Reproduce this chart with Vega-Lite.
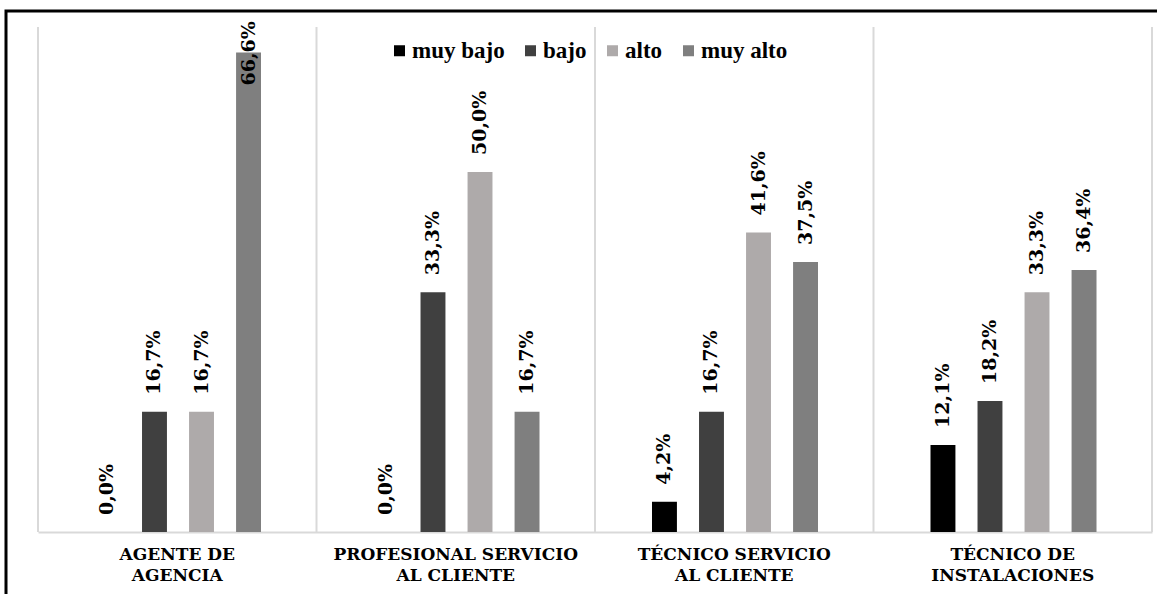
{
  "$schema": "https://vega.github.io/schema/vega-lite/v6.json",
  "width": 1165,
  "height": 590,
  "autosize": {"type": "none"},
  "padding": {"left": 6, "top": 11, "right": -14, "bottom": -7},
  "background": "#ffffff",
  "config": {
    "locale": {
      "number": {"decimal": ",", "thousands": ".", "grouping": [3], "currency": ["", " €"]}
    },
    "view": {"stroke": "#000000", "strokeWidth": 3}
  },
  "data": {
    "values": [
      {"puesto": "AGENTE DE AGENCIA", "nivel": "muy bajo", "valor": 0.0},
      {"puesto": "AGENTE DE AGENCIA", "nivel": "bajo", "valor": 0.167},
      {"puesto": "AGENTE DE AGENCIA", "nivel": "alto", "valor": 0.167},
      {"puesto": "AGENTE DE AGENCIA", "nivel": "muy alto", "valor": 0.666},
      {"puesto": "PROFESIONAL SERVICIO AL CLIENTE", "nivel": "muy bajo", "valor": 0.0},
      {"puesto": "PROFESIONAL SERVICIO AL CLIENTE", "nivel": "bajo", "valor": 0.333},
      {"puesto": "PROFESIONAL SERVICIO AL CLIENTE", "nivel": "alto", "valor": 0.5},
      {"puesto": "PROFESIONAL SERVICIO AL CLIENTE", "nivel": "muy alto", "valor": 0.167},
      {"puesto": "TÉCNICO SERVICIO AL CLIENTE", "nivel": "muy bajo", "valor": 0.042},
      {"puesto": "TÉCNICO SERVICIO AL CLIENTE", "nivel": "bajo", "valor": 0.167},
      {"puesto": "TÉCNICO SERVICIO AL CLIENTE", "nivel": "alto", "valor": 0.416},
      {"puesto": "TÉCNICO SERVICIO AL CLIENTE", "nivel": "muy alto", "valor": 0.375},
      {"puesto": "TÉCNICO DE INSTALACIONES", "nivel": "muy bajo", "valor": 0.121},
      {"puesto": "TÉCNICO DE INSTALACIONES", "nivel": "bajo", "valor": 0.182},
      {"puesto": "TÉCNICO DE INSTALACIONES", "nivel": "alto", "valor": 0.333},
      {"puesto": "TÉCNICO DE INSTALACIONES", "nivel": "muy alto", "valor": 0.364}
    ]
  },
  "layer": [
    {
      "mark": {"type": "bar"},
      "encoding": {
        "x": {
          "field": "puesto",
          "type": "nominal",
          "sort": null,
          "scale": {"range": [32, 1146], "paddingInner": 0, "paddingOuter": 0},
          "axis": {
            "orient": "bottom",
            "offset": -69,
            "title": null,
            "grid": false,
            "ticks": false,
            "domainColor": "#d9d9d9",
            "domainWidth": 2,
            "labelAngle": 0,
            "labelPadding": 14,
            "labelLimit": 0,
            "labelFont": "DejaVu Serif",
            "labelFontWeight": "bold",
            "labelFontSize": 17,
            "labelLineHeight": 21,
            "labelColor": "#000000",
            "labelExpr": "indexof(datum.label, ' AL CLIENTE') > 0 ? [replace(datum.label, ' AL CLIENTE', ''), 'AL CLIENTE'] : [slice(datum.label, 0, lastindexof(datum.label, ' ')), slice(datum.label, lastindexof(datum.label, ' ') + 1)]"
          }
        },
        "xOffset": {
          "field": "nivel",
          "type": "nominal",
          "sort": ["muy bajo", "bajo", "alto", "muy alto"],
          "scale": {"range": [57, 223], "paddingInner": 0.47, "paddingOuter": 0}
        },
        "y": {
          "field": "valor",
          "type": "quantitative",
          "scale": {"domain": [0, 0.7236], "range": [521, 0], "nice": false, "zero": true},
          "axis": null
        },
        "color": {
          "field": "nivel",
          "type": "nominal",
          "sort": ["muy bajo", "bajo", "alto", "muy alto"],
          "scale": {
            "domain": ["muy bajo", "bajo", "alto", "muy alto"],
            "range": ["#000000", "#404040", "#aeaaaa", "#7f7f7f"]
          },
          "legend": {
            "orient": "none",
            "direction": "horizontal",
            "legendX": 382,
            "legendY": 28,
            "title": null,
            "padding": 0,
            "symbolType": "square",
            "symbolSize": 121,
            "symbolStrokeWidth": 0,
            "labelOffset": 1,
            "columnPadding": 14,
            "labelFont": "Liberation Serif",
            "labelFontWeight": "bold",
            "labelFontSize": 23,
            "labelColor": "#000000"
          }
        }
      }
    },
    {
      "transform": [{"filter": "datum.nivel == 'muy bajo'"}],
      "mark": {"type": "rule", "color": "#d9d9d9", "strokeWidth": 2},
      "encoding": {
        "x": {"field": "puesto", "type": "nominal", "sort": null, "bandPosition": 0},
        "y": {"datum": 0},
        "y2": {"datum": 0.7014}
      }
    },
    {
      "transform": [{"filter": "datum.nivel == 'muy bajo' && datum.puesto == 'TÉCNICO DE INSTALACIONES'"}],
      "mark": {"type": "rule", "color": "#d9d9d9", "strokeWidth": 2},
      "encoding": {
        "x": {"field": "puesto", "type": "nominal", "sort": null, "bandPosition": 1},
        "y": {"datum": 0},
        "y2": {"datum": 0.7014}
      }
    },
    {
      "mark": {
        "type": "text",
        "angle": 270,
        "align": "left",
        "baseline": "middle",
        "font": "DejaVu Serif",
        "fontWeight": "bold",
        "fontSize": 19,
        "color": "#000000",
        "dx": {"expr": "datum.valor > 0.6 ? -33 : 17"}
      },
      "encoding": {
        "x": {"field": "puesto", "type": "nominal", "sort": null},
        "xOffset": {
          "field": "nivel",
          "type": "nominal",
          "sort": ["muy bajo", "bajo", "alto", "muy alto"]
        },
        "y": {"field": "valor", "type": "quantitative"},
        "text": {"field": "valor", "type": "quantitative", "format": ".1%"}
      }
    }
  ]
}
